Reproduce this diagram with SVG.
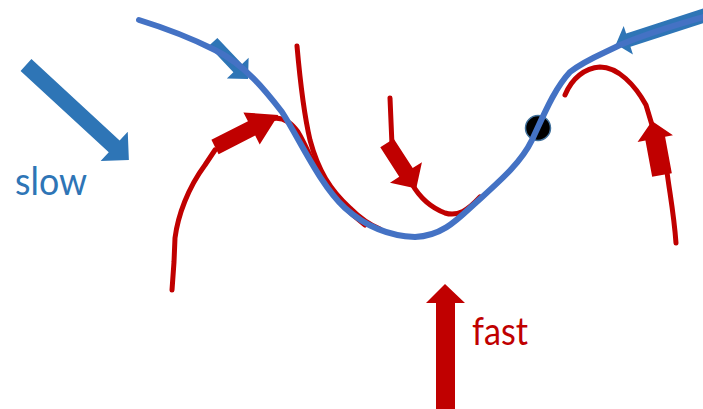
<svg xmlns="http://www.w3.org/2000/svg" width="703" height="409" viewBox="0 0 703 409">
  <style>
    .red-line { fill: none; stroke: #C00000; stroke-width: 5; stroke-linecap: round; stroke-linejoin: round; }
    .blue-line { fill: none; stroke: #4472C4; stroke-width: 6; stroke-linecap: round; stroke-linejoin: round; }
    .red-arrow { fill: #C00000; }
    .blue-arrow { fill: #2E75B6; }
    .label { font-family: Lato, "Open Sans", sans-serif; font-size: 38px; }
  </style>
  <rect width="703" height="409" fill="#ffffff"/>

  <!-- red trajectories -->
  <g id="connectors">
    <path class="red-line" d="M172,290 L174,262 L175,238 C178,215 188,188 205,165 L215,150"/>
    <path class="red-line" d="M268,120 C278,116 288,118 298,132 C306,145 312,162 320,175 C330,192 345,210 365,225"/>
    <path class="red-line" d="M297,46 C300,80 303,110 310,140 C318,170 330,190 350,208 C360,218 370,225 380,229"/>
    <path class="red-line" d="M390,98 L392,145"/>
    <path class="red-line" d="M412,184 C420,198 432,208 445,213 C458,217 468,210 480,197"/>
    <path class="red-line" d="M565,95 C572,78 585,68 600,67 C618,67 635,85 646,105 L652,125"/>
    <path class="red-line" d="M667,172 C670,195 674,215 676,243"/>
  </g>

  <!-- red arrows -->
  <g id="red-arrow-left" transform="translate(215,147) rotate(-26.9)">
    <polygon class="red-arrow" points="0,-8 41,-8 41,-18 71,0 41,18 41,8 0,8"/>
  </g>
  <g id="red-arrow-middle" transform="translate(387,143) rotate(57.2)">
    <polygon class="red-arrow" points="0,-8 35,-8 35,-19 54,0 35,19 35,8 0,8"/>
  </g>
  <g id="red-arrow-right" transform="translate(662,175) rotate(-100.5)">
    <polygon class="red-arrow" points="0,-10 37,-10 37,-18 55,0 37,18 37,10 0,10"/>
  </g>
  <g id="fast-arrow">
    <polygon class="red-arrow" points="436,412 436,303 426,303 445,284 465,303 455,303 455,412"/>
  </g>

  <!-- blue arrows -->
  <g id="slow-arrow" transform="translate(26,65) rotate(42.7)">
    <polygon class="blue-arrow" points="0,-8 120,-8 120,-20 140,0 120,20 120,8 0,8"/>
  </g>
  <g id="blue-arrow-top-left" transform="translate(213,42) rotate(46.6)">
    <polygon class="blue-arrow" points="0,-6 36,-6 36,-15 51,0 36,15 36,6 0,6"/>
  </g>
  <g id="blue-arrow-top-right" transform="translate(712,13) rotate(162)">
    <polygon class="blue-arrow" points="0,-7 88,-7 88,-15 101,0 88,15 88,7 0,7"/>
  </g>

  <!-- ball -->
  <g id="ball">
    <circle cx="538" cy="128" r="12.5" fill="#000000" stroke="#41719C" stroke-width="1.5"/>
  </g>

  <!-- blue trajectory -->
  <g id="blue-path">
    <path class="blue-line" d="M139,20 C165,28 195,40 215,50 C245,65 265,90 282,112 C300,140 320,185 345,208 C365,226 390,236 415,237 C440,236 455,222 470,208 C495,185 520,165 532,140 C545,112 555,88 570,72 C585,60 600,55 620,45 C650,32 680,24 703,17"/>
  </g>

  <g id="slow-label">
    <text class="label" x="15" y="195" fill="#2E75B6" textLength="72" lengthAdjust="spacingAndGlyphs">slow</text>
  </g>
  <g id="fast-label">
    <text class="label" x="472" y="345" fill="#C00000" textLength="56" lengthAdjust="spacingAndGlyphs">fast</text>
  </g>
</svg>
